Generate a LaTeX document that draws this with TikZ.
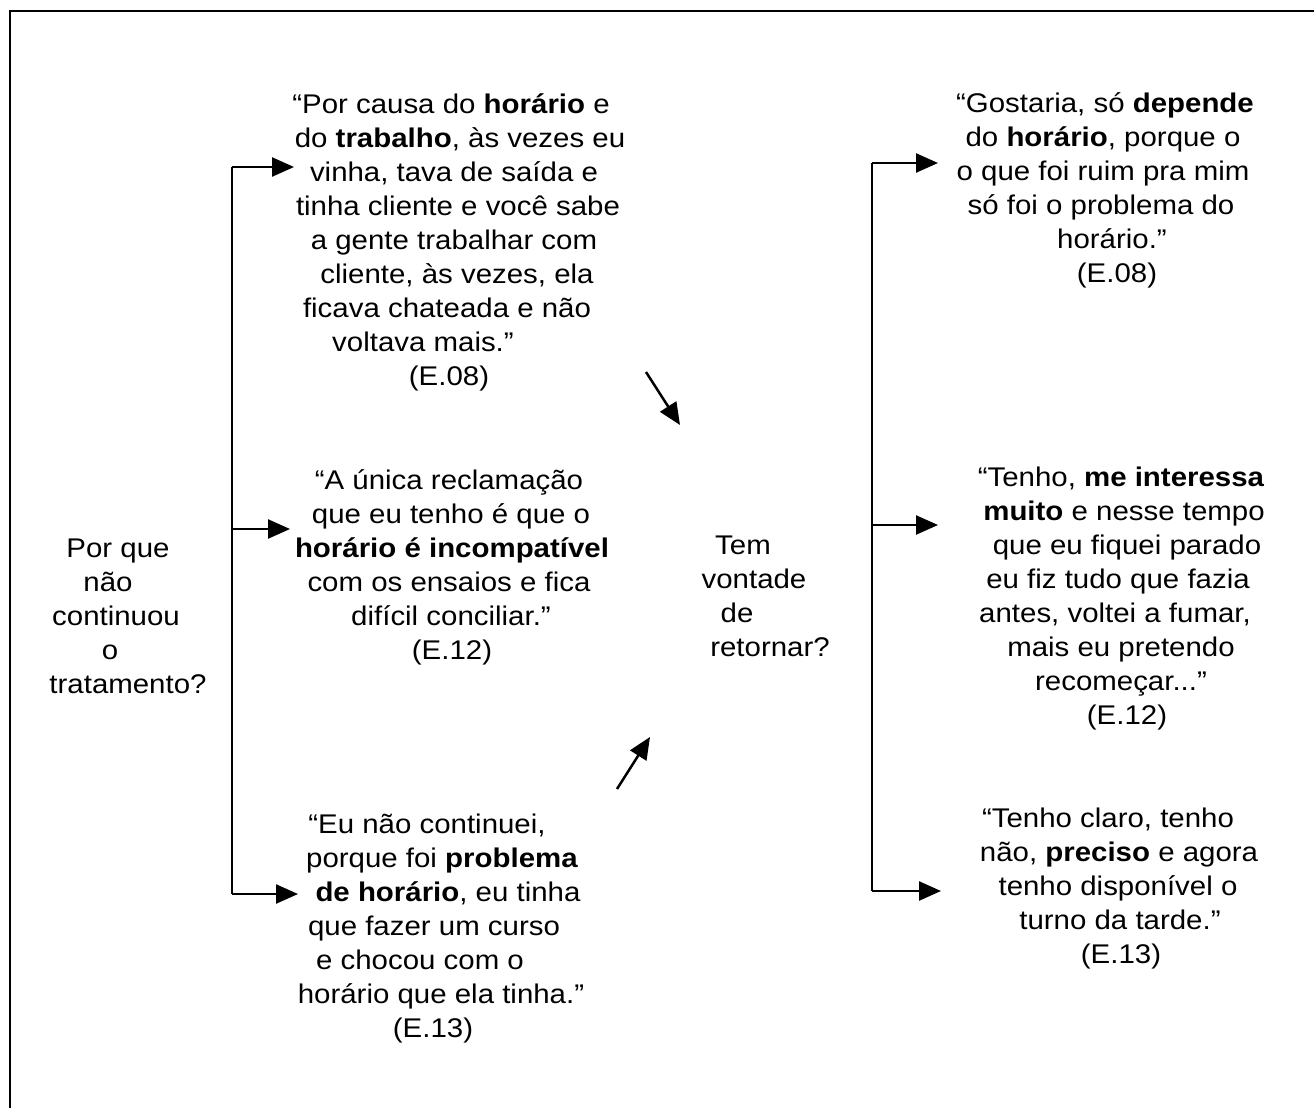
\documentclass[tikz,border=0pt]{standalone}
\usepackage{fontspec}
\setmainfont{Liberation Sans}[FakeStretch=1.09]
\usetikzlibrary{arrows.meta}
\tikzset{
  txt/.style={anchor=base, inner sep=0pt, font=\fontsize{27}{34}\selectfont},
  conn/.style={line width=2.5pt, -{Triangle[length=22pt,width=19pt]}},
  bracket/.style={line width=2.5pt},
  frame/.style={line width=2.5pt}
}
\begin{document}
\begin{tikzpicture}[x=1pt,y=-1pt]
\useasboundingbox (0,0) rectangle (1314,1108);
% frame
\coordinate (ftr) at (1314,11);
\coordinate (ftl) at (10,11);
\coordinate (fbl) at (10,1108);
\draw[frame] (ftr) -- (ftl) -- (fbl);

% left question
\foreach \cx/\t [count=\i from 0] in {118/{Por que},108/{não},116/{continuou},110/{o},128/{tratamento?}}
  \node[txt] (lq\i) at (\cx,{557+34*\i}) {\t};

% middle question
\foreach \cx/\t [count=\i from 0] in {743/{Tem},754/{vontade},737/{de},770/{retornar?}}
  \node[txt] (mq\i) at (\cx,{554+34*\i}) {\t};

% block 1
\foreach \cx/\t [count=\i from 0] in {
  451/{“Por causa do \textbf{horário} e},
  460/{do \textbf{trabalho}, às vezes eu},
  454/{vinha, tava de saída e},
  458/{tinha cliente e você sabe},
  454/{a gente trabalhar com},
  457/{cliente, às vezes, ela},
  447/{ficava chateada e não},
  423/{voltava mais.”},
  449/{(E.08)}}
  \node[txt] (a\i) at (\cx,{113+34*\i}) {\t};

% block 2
\foreach \cx/\t [count=\i from 0] in {
  449/{“A única reclamação},
  451/{que eu tenho é que o},
  452/{\textbf{horário é incompatível}},
  449/{com os ensaios e fica},
  451/{difícil conciliar.”},
  452/{(E.12)}}
  \node[txt] (b\i) at (\cx,{489+34*\i}) {\t};

% block 3
\foreach \cx/\t [count=\i from 0] in {
  427/{“Eu não continuei,},
  442/{porque foi \textbf{problema}},
  448/{\textbf{de horário}, eu tinha},
  434/{que fazer um curso},
  420/{e chocou com o},
  441/{horário que ela tinha.”},
  433/{(E.13)}}
  \node[txt] (c\i) at (\cx,{833+34*\i}) {\t};

% block TR
\foreach \cx/\t [count=\i from 0] in {
  1105/{“Gostaria, só \textbf{depende}},
  1103/{do \textbf{horário}, porque o},
  1103/{o que foi ruim pra mim},
  1101/{só foi o problema do},
  1112/{horário.”},
  1117/{(E.08)}}
  \node[txt] (d\i) at (\cx,{112+34*\i}) {\t};

% block MR
\foreach \cx/\t [count=\i from 0] in {
  1121/{“Tenho, \textbf{me interessa}},
  1124/{\textbf{muito} e nesse tempo},
  1127/{que eu fiquei parado},
  1118/{eu fiz tudo que fazia},
  1115/{antes, voltei a fumar,},
  1121/{mais eu pretendo},
  1121/{recomeçar...”},
  1127/{(E.12)}}
  \node[txt] (e\i) at (\cx,{486+34*\i}) {\t};

% block BR
\foreach \cx/\t [count=\i from 0] in {
  1108/{“Tenho claro, tenho},
  1119/{não, \textbf{preciso} e agora},
  1118/{tenho disponível o},
  1120/{turno da tarde.”},
  1121/{(E.13)}}
  \node[txt] (f\i) at (\cx,{827+34*\i}) {\t};

% left bracket
\coordinate (lt) at (232,167);
\coordinate (lm) at (232,529);
\coordinate (lb) at (232,894);
\coordinate (lta) at (294,167);
\coordinate (lma) at (290,529);
\coordinate (lba) at (298,894);
\draw[bracket] (lt) -- (lb);
\draw[conn] (lt) -- (lta);
\draw[conn] (lm) -- (lma);
\draw[conn] (lb) -- (lba);

% right bracket
\coordinate (rt) at (872,163);
\coordinate (rm) at (872,525);
\coordinate (rb) at (872,891);
\coordinate (rta) at (938,163);
\coordinate (rma) at (938,525);
\coordinate (rba) at (941,891);
\draw[bracket] (rt) -- (rb);
\draw[conn] (rt) -- (rta);
\draw[conn] (rm) -- (rma);
\draw[conn] (rb) -- (rba);

% diagonal arrows
\coordinate (d1s) at (646,372);
\coordinate (d1e) at (680,425);
\coordinate (d2s) at (617,789);
\coordinate (d2e) at (650,737);
\draw[conn] (d1s) -- (d1e);
\draw[conn] (d2s) -- (d2e);
\end{tikzpicture}
\end{document}
